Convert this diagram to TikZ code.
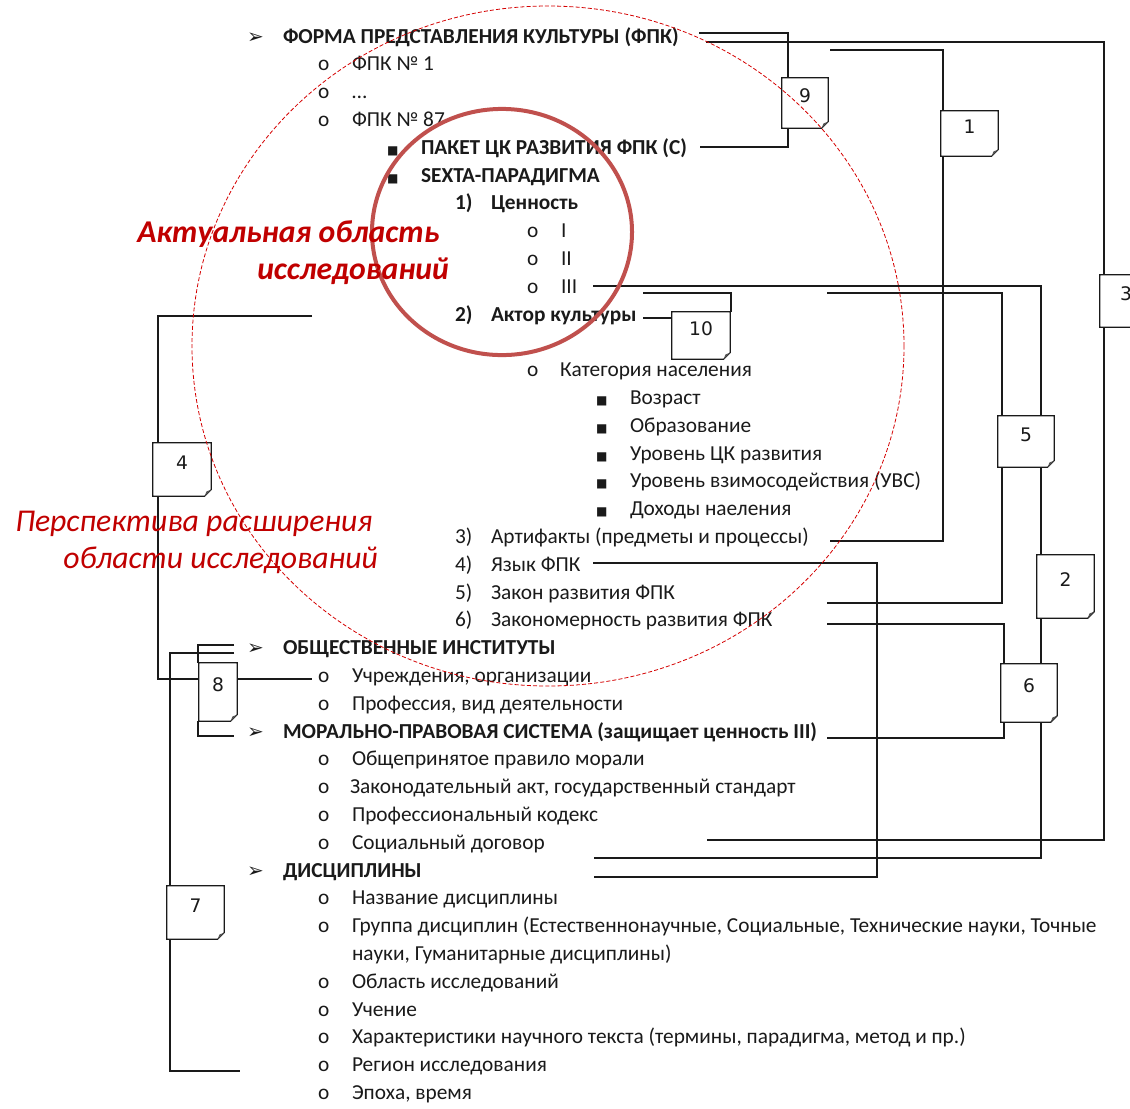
\documentclass[tikz,border=0pt]{standalone}
\usepackage{fontspec}
\setmainfont{Carlito}
\newfontfamily\dejavu{DejaVu Sans}
\usetikzlibrary{fit,calc}
\pgfdeclarelayer{bg}
\pgfsetlayers{bg,main}
\definecolor{circred}{HTML}{C0504D}
\definecolor{dashred}{HTML}{D40000}
\definecolor{labred}{HTML}{C00000}
\definecolor{ink}{HTML}{1A1A1A}
\definecolor{foldc}{HTML}{555555}
\newcommand\li[8]{\node[#3] (#1b) at (#4,{43+27.8*#2}) {#5};\node[#6] (#1) at (#7,{43+27.8*#2}) {#8};}
\newcommand\mkbox[6]{%
  \coordinate (#1-a) at (#2,#3); \coordinate (#1-b) at (#4,#5);
  \node[notebox, fit=(#1-a)(#1-b)] (#1) {#6};
  \draw[boxline] (#1.north west) -- (#1.north east) -- ([yshift=5pt]#1.south east) -- ([xshift=-5pt]#1.south east) -- (#1.south west) -- cycle;
  \fill[foldc] ([yshift=5pt]#1.south east) -- ([xshift=-5pt]#1.south east) -- ([xshift=-3.6pt,yshift=3.6pt]#1.south east) -- cycle;}
\begin{document}
\begin{tikzpicture}[x=0.75pt,y=-0.75pt,
  txt/.style={anchor=base west, inner sep=0pt, outer sep=0pt, text=ink, font=\fontsize{16pt}{19pt}\selectfont},
  hd/.style={txt, font=\fontsize{16pt}{19pt}\selectfont\bfseries},
  arrb/.style={txt, font=\dejavu\bfseries\fontsize{15pt}{15pt}\selectfont},
  sqb/.style={txt, font=\dejavu\fontsize{9pt}{9pt}\selectfont},
  conn/.style={draw=ink, line width=0.9pt},
  boxline/.style={draw=ink, line width=0.9pt},
  notebox/.style={fill=white, inner sep=0pt, text=ink, font=\dejavu\fontsize{14pt}{14pt}\selectfont},
  redlab/.style={anchor=base west, inner sep=0pt, text=labred}]
\clip (0,0) rectangle (1130,1108);

% ---------- text rows ----------
\li{r0}{0}{arrb}{247}{➢}{hd}{283}{ФОРМА ПРЕДСТАВЛЕНИЯ КУЛЬТУРЫ (ФПК)}
\li{r1}{1}{txt}{318}{o}{txt}{352}{ФПК № 1}
\li{r2}{2}{txt}{318}{o}{txt}{352}{…}
\li{r3}{3}{txt}{318}{o}{txt}{352}{ФПК № 87}
\li{r4}{4}{sqb}{387}{■}{hd}{421}{ПАКЕТ ЦК РАЗВИТИЯ ФПК (С)}
\li{r5}{5}{sqb}{387}{■}{hd}{421}{SEXTA-ПАРАДИГМА}
\li{r6}{6}{hd}{455}{1)}{hd}{491}{Ценность}
\li{r7}{7}{txt}{527}{o}{txt}{561}{I}
\li{r8}{8}{txt}{527}{o}{txt}{561}{II}
\li{r9}{9}{txt}{527}{o}{txt}{561}{III}
\li{r10}{10}{hd}{455}{2)}{hd}{491}{Актор культуры}
\li{r12}{12}{txt}{527}{o}{txt}{560}{Категория населения}
\li{r13}{13}{sqb}{596}{■}{txt}{630}{Возраст}
\li{r14}{14}{sqb}{596}{■}{txt}{630}{Образование}
\li{r15}{15}{sqb}{596}{■}{txt}{630}{Уровень ЦК развития}
\li{r16}{16}{sqb}{596}{■}{txt}{630}{Уровень взимосодействия (УВС)}
\li{r17}{17}{sqb}{596}{■}{txt}{630}{Доходы наеления}
\li{r18}{18}{txt}{455}{3)}{txt}{491}{Артифакты (предметы и процессы)}
\li{r19}{19}{txt}{455}{4)}{txt}{491}{Язык ФПК}
\li{r20}{20}{txt}{455}{5)}{txt}{491}{Закон развития ФПК}
\li{r21}{21}{txt}{455}{6)}{txt}{491}{Закономерность развития ФПК}
\li{r22}{22}{arrb}{247}{➢}{hd}{283}{ОБЩЕСТВЕННЫЕ ИНСТИТУТЫ}
\li{r23}{23}{txt}{318}{o}{txt}{352}{Учреждения, организации}
\li{r24}{24}{txt}{318}{o}{txt}{352}{Профессия, вид деятельности}
\li{r25}{25}{arrb}{247}{➢}{hd}{283}{МОРАЛЬНО-ПРАВОВАЯ СИСТЕМА (защищает ценность III)}
\li{r26}{26}{txt}{318}{o}{txt}{352}{Общепринятое правило морали}
\li{r27}{27}{txt}{318}{o}{txt}{350}{Законодательный акт, государственный стандарт}
\li{r28}{28}{txt}{318}{o}{txt}{352}{Профессиональный кодекс}
\li{r29}{29}{txt}{318}{o}{txt}{352}{Социальный договор}
\li{r30}{30}{arrb}{247}{➢}{hd}{283}{ДИСЦИПЛИНЫ}
\li{r31}{31}{txt}{318}{o}{txt}{352}{Название дисциплины}
\li{r32}{32}{txt}{318}{o}{txt}{352}{Группа дисциплин (Естественнонаучные, Социальные, Технические науки, Точные}
\node[txt] (r33) at (352,{43+27.8*33}) {науки, Гуманитарные дисциплины)};
\li{r34}{34}{txt}{318}{o}{txt}{352}{Область исследований}
\li{r35}{35}{txt}{318}{o}{txt}{352}{Учение}
\li{r36}{36}{txt}{318}{o}{txt}{352}{Характеристики научного текста (термины, парадигма, метод и пр.)}
\li{r37}{37}{txt}{318}{o}{txt}{352}{Регион исследования}
\li{r38}{38}{txt}{318}{o}{txt}{352}{Эпоха, время}

% ---------- numbered note boxes ----------
\mkbox{n9}{782}{78}{828}{128}{9}
\mkbox{n1}{941}{111}{998}{156}{1}
\mkbox{n3}{1100}{275}{1152}{327}{3}
\mkbox{n10}{672}{312}{730}{359}{10}
\mkbox{n5}{998}{416}{1054}{467}{5}
\mkbox{n2}{1037}{555}{1094}{618}{2}
\mkbox{n6}{1001}{664}{1057}{722}{6}
\mkbox{n4}{153}{443}{211}{496}{4}
\mkbox{n8}{199}{663}{237}{721}{8}
\mkbox{n7}{167}{886}{224}{939}{7}

% ---------- connector ends and routing columns ----------
\coordinate (e9a) at (699,33);  \coordinate (e9b) at (700,147);
\coordinate (e3a) at (706,42);  \coordinate (e3b) at (707,840);
\coordinate (e1a) at (830,50);  \coordinate (e1b) at (830,541);
\coordinate (e2a) at (593,286); \coordinate (e2b) at (594,858);
\coordinate (e5a) at (827,293); \coordinate (e5b) at (827,603);
\coordinate (e6a) at (827,624); \coordinate (e6b) at (827,738);
\coordinate (e10a) at (643,293); \coordinate (e10b) at (643,318);
\coordinate (eya) at (593,563); \coordinate (eyb) at (594,877);
\coordinate (e4a) at (312,316); \coordinate (e4b) at (312,679);
\coordinate (e8a) at (234,645); \coordinate (e8b) at (234,736);
\coordinate (e7a) at (234,653); \coordinate (e7b) at (240,1071);
\coordinate (x788) at (788,0);  \coordinate (x1104) at (1104,0);
\coordinate (x943) at (943,0);  \coordinate (x1041) at (1041,0);
\coordinate (x1002) at (1002,0); \coordinate (x1004) at (1004,0);
\coordinate (x731) at (731,0);  \coordinate (x877) at (877,0);
\coordinate (x158) at (158,0);  \coordinate (x198) at (198,0);
\coordinate (x170) at (170,0);

\begin{pgfonlayer}{bg}
\draw[conn] (e9a) -| (n9.north -| x788);
\draw[conn] (n9.south -| x788) |- (e9b);
\draw[conn] (e3a) -| (n3.north -| x1104);
\draw[conn] (n3.south -| x1104) |- (e3b);
\draw[conn] (e1a) -| (n1.north -| x943);
\draw[conn] (n1.south -| x943) |- (e1b);
\draw[conn] (e2a) -| (n2.north -| x1041);
\draw[conn] (n2.south -| x1041) |- (e2b);
\draw[conn] (e5a) -| (n5.north -| x1002);
\draw[conn] (n5.south -| x1002) |- (e5b);
\draw[conn] (e6a) -| (n6.north -| x1004);
\draw[conn] (n6.south -| x1004) |- (e6b);
\draw[conn] (e10a) -| (n10.north -| x731);
\draw[conn] (e10b) -- (e10b -| n10.west);
\draw[conn] (eya) -| (eyb -| x877) -- (eyb);
\draw[conn] (e4a) -| (n4.north -| x158);
\draw[conn] (n4.south -| x158) |- (e4b);
\draw[conn] (e8a) -| (n8.north -| x198);
\draw[conn] (n8.south -| x198) |- (e8b);
\draw[conn] (e7a) -| (n7.north -| x170);
\draw[conn] (n7.south -| x170) |- (e7b);
\end{pgfonlayer}

% ---------- red areas ----------
\coordinate (cdash) at (548,346);
\draw[dashred, line width=0.6pt, dash pattern=on 3pt off 1.6pt] (cdash) ellipse [x radius=267pt, y radius=255pt];
\coordinate (csol) at (502,232);
\draw[circred, line width=3pt] (csol) ellipse [x radius=97.5pt, y radius=92.3pt];

\node[redlab, font=\fontsize{23.8pt}{24pt}\selectfont\bfseries\itshape] (lab1) at (137,242) {Актуальная область};
\node[redlab, font=\fontsize{23.8pt}{24pt}\selectfont\bfseries\itshape] (lab2) at (257,279) {исследований};
\node[redlab, font=\fontsize{23.8pt}{24pt}\selectfont\itshape] (lab3) at (15,531) {Перспектива расширения};
\node[redlab, font=\fontsize{23.8pt}{24pt}\selectfont\itshape] (lab4) at (63,568) {области исследований};
\end{tikzpicture}
\end{document}
